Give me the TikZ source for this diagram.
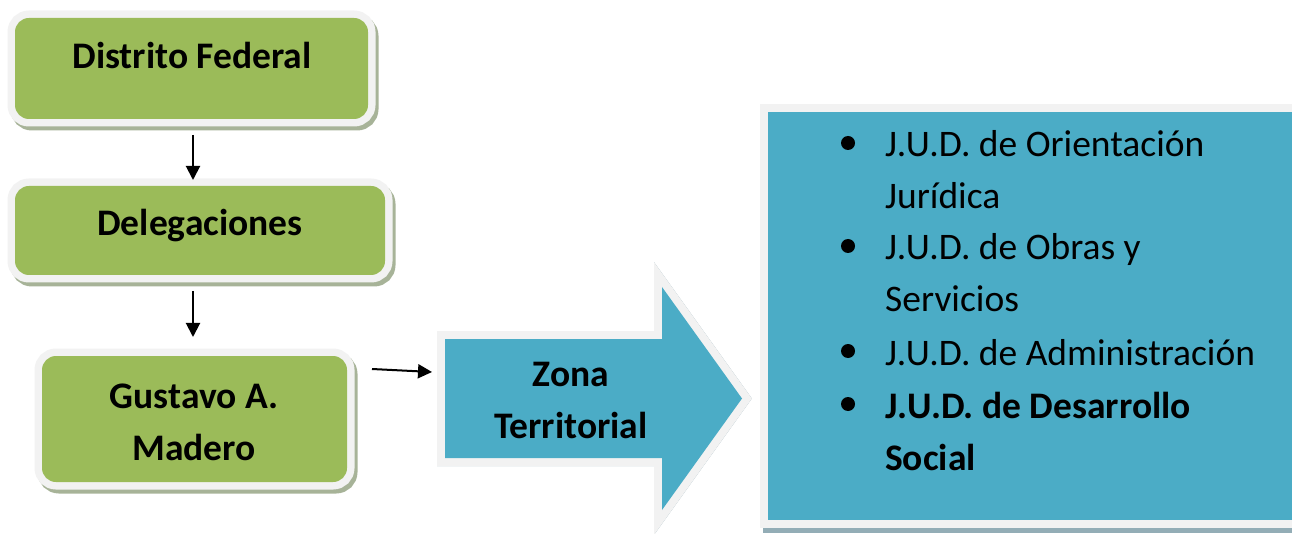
\documentclass[tikz,border=0pt]{standalone}
\usepackage{fontspec}
\setmainfont{Carlito}
\usetikzlibrary{arrows.meta,calc}
\definecolor{gfill}{HTML}{9BBB59}
\definecolor{bfill}{HTML}{4BACC6}
\definecolor{edge}{HTML}{F2F2F2}
\definecolor{gshad}{HTML}{A7B398}
\definecolor{bshad}{HTML}{93ADB6}
\tikzset{
  gbox/.style={rectangle, rounded corners=14pt, fill=gfill, outer sep=0pt, inner sep=0pt,
    preaction={draw=edge, line width=15pt}},
  gshadow/.style={fill=gshad, draw=gshad, line width=15pt, rounded corners=14pt},
  bshape/.style={fill=bfill, preaction={draw=edge, line width=16pt, line join=miter}},
  bshadow/.style={fill=bshad, draw=bshad, line width=16pt, line join=miter},
  lbl/.style={font=\fontsize{37.5}{44}\selectfont\bfseries, inner sep=0pt, anchor=base},
  item/.style={font=\fontsize{37.5}{44}\selectfont, inner sep=0pt, anchor=base west},
  bitem/.style={item, font=\fontsize{37.5}{44}\selectfont\bfseries},
  dot/.style={circle, fill=black, minimum size=14pt, inner sep=0pt},
  conn/.style={line width=2pt, -{Triangle[length=14pt,width=14pt]}}
}
\begin{document}
\begin{tikzpicture}[x=1pt,y=-1pt]
\useasboundingbox (0,0) rectangle (1292,534);
\clip (0,0) rectangle (1292,534);
% green boxes
\draw[gshadow] (18,22) rectangle (371,123);
\draw[gshadow] (18,190) rectangle (388,279);
\draw[gshadow] (45,360) rectangle (350,486);
\node[gbox, minimum width=353pt, minimum height=101pt] (df) at (191.5,68.5) {};
\node[gbox, minimum width=370pt, minimum height=89pt] (dl) at (200,230.5) {};
\node[gbox, minimum width=305pt, minimum height=126pt] (gm) at (194.5,419) {};
\node[lbl] (dft) at (192,69) {Distrito Federal};
\node[lbl] (dlt) at (200,236) {Delegaciones};
\node[lbl] (gmt1) at (194,408) {Gustavo A.};
\node[lbl] (gmt2) at (194,460) {Madero};
% vertical connectors
\coordinate (vx) at (193,0);
\draw[conn, shorten <=16pt, shorten >=6pt] (df.south -| vx) -- (dl.north -| vx);
\draw[conn, shorten <=16pt, shorten >=19pt] (dl.south -| vx) -- (gm.north -| vx);
% big arrow
\coordinate (a1) at (445,339);
\coordinate (a2) at (662,339);
\coordinate (a3) at (662,287);
\coordinate (a4) at (742,398.5);
\coordinate (a5) at (662,510);
\coordinate (a6) at (662,458);
\coordinate (a7) at (445,458);
\draw[bshadow, shift={(3,5)}] (a1) -- (a2) -- (a3) -- (a4) -- (a5) -- (a6) -- (a7) -- cycle;
\path[bshape] (a1) -- (a2) -- (a3) -- (a4) -- (a5) -- (a6) -- (a7) -- cycle;
\node[lbl] (zt1) at (571,386) {Zona};
\node[lbl] (zt2) at (571,438) {Territorial};
% horizontal connector
\coordinate (h1) at (372,369);
\coordinate (h2) at (432,372);
\draw[conn] (h1) -- (h2);
% right box
\draw[bshadow] (771,117) rectangle (1320,525);
\path[bshape] (768,112) rectangle (1320,520);
\node[dot] (b1) at (848,143) {};
\node[item] (i1a) at (885,157) {J.U.D. de Orientación};
\node[item] (i1b) at (885,209) {Jurídica};
\node[dot] (b2) at (848,246) {};
\node[item] (i2a) at (885,260) {J.U.D. de Obras y};
\node[item] (i2b) at (885,312) {Servicios};
\node[dot] (b3) at (848,351) {};
\node[item] (i3a) at (885,365) {J.U.D. de Administración};
\node[dot] (b4) at (848,404) {};
\node[bitem] (i4a) at (885,418) {J.U.D. de Desarrollo};
\node[bitem] (i4b) at (885,470) {Social};
\end{tikzpicture}
\end{document}
